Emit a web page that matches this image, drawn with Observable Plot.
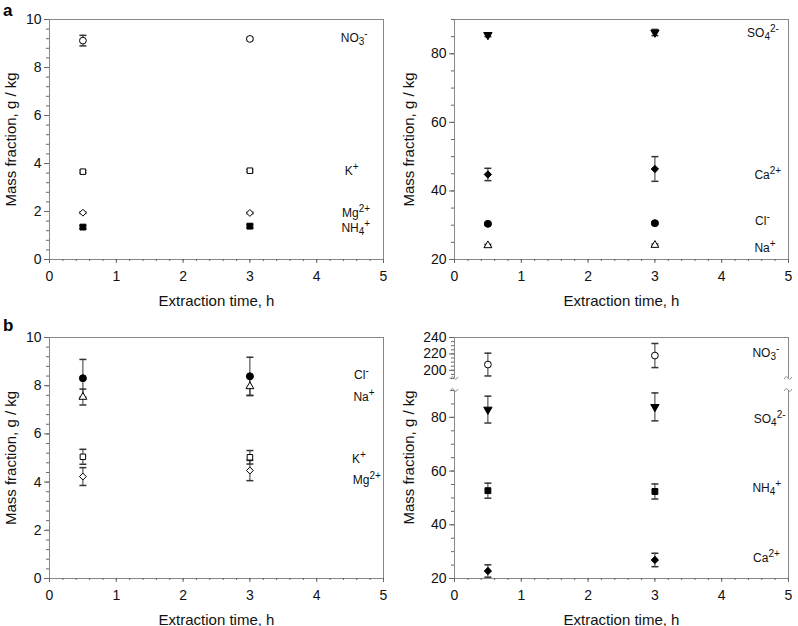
<!DOCTYPE html>
<html><head><meta charset="utf-8">
<script src="https://cdn.jsdelivr.net/npm/d3@7"></script>
<script src="https://cdn.jsdelivr.net/npm/@observablehq/plot@0.6"></script>
<style>
body{margin:0;background:#fff;}
#fig{position:relative;width:798px;height:626px;font-family:"Liberation Sans",Arial,sans-serif;overflow:hidden;}
#fig > svg{position:absolute;}
</style></head><body><div id="fig"></div>
<script>
// ---------- data ----------
const times = [0.5, 3];
const xDomain = [0, 5];
const xTicks = [0, 1, 2, 3, 4, 5];
const xMinor = d3.range(0, 5.001, 0.2);

// panel a, left
const aL_names = ["NO_{3}^{-}", "K^{+}", "Mg^{2+}", "NH_{4}^{+}"];
const aL_values = [[9.12, 9.19], [3.66, 3.70], [1.95, 1.94], [1.35, 1.39]];
const aL_errors = [[0.22, 0.06], [0.05, 0.05], [0.03, 0.03], [0.07, 0.07]];
const aL_markers = ["openCircle", "openSquare", "openDiamond", "filledSquare"];
const aL_labelX = [4.36, 4.42, 4.38, 4.37];
const aL_labelY = [9.22, 3.70, 1.95, 1.29];
const aL_yTicks = [0, 2, 4, 6, 8, 10];

// panel a, right
const aR_names = ["SO_{4}^{2-}", "Ca^{2+}", "Cl^{-}", "Na^{+}"];
const aR_values = [[85.5, 86.2], [44.8, 46.4], [30.4, 30.6], [24.1, 24.2]];
const aR_errors = [[0.5, 0.9], [1.8, 3.6], [0.4, 0.4], [0.3, 0.3]];
const aR_markers = ["filledDown", "filledDiamond", "filledCircle", "openTriangle"];
const aR_labelX = [4.38, 4.49, 4.50, 4.49];
const aR_labelY = [85.9, 44.6, 31.2, 23.4];
const aR_yTicks = [20, 40, 60, 80];

// panel b, left
const bL_names = ["Cl^{-}", "Na^{+}", "K^{+}", "Mg^{2+}"];
const bL_values = [[8.31, 8.39], [7.53, 7.97], [5.05, 5.03], [4.23, 4.48]];
const bL_errors = [[0.78, 0.79], [0.33, 0.38], [0.31, 0.28], [0.37, 0.42]];
const bL_markers = ["filledCircle", "openTriangle", "openSquare", "openDiamond"];
const bL_labelX = [4.56, 4.55, 4.53, 4.54];
const bL_labelY = [8.42, 7.52, 4.97, 4.07];
const bL_yTicks = [0, 2, 4, 6, 8, 10];

// panel b, right (broken axis)
const bRu_names = ["NO_{3}^{-}"];
const bRu_values = [[207, 218]];
const bRu_errors = [[13.9, 14.7]];
const bRu_markers = ["openCircle"];
const bRu_labelX = [4.46];
const bRu_labelY = [220.8];
const bRu_yTicks = [200, 220, 240];

const bRl_names = ["SO_{4}^{2-}", "NH_{4}^{+}", "Ca^{2+}"];
const bRl_values = [[82.9, 83.9], [52.7, 52.4], [22.8, 26.9]];
const bRl_errors = [[5.0, 5.2], [2.8, 2.8], [2.3, 2.5]];
const bRl_markers = ["filledDown", "filledSquare", "filledDiamond"];
const bRl_labelX = [4.48, 4.46, 4.47];
const bRl_labelY = [79.5, 53.8, 27.4];
const bRl_yTicks = [20, 40, 60, 80];

const xLabel = "Extraction time, h";
const yLabel = "Mass fraction, g / kg";
const panelLetters = ["a", "b"];

// ---------- styles ----------
const triDown = {draw(ctx, size) {
  const y = -Math.sqrt(size / (Math.sqrt(3) * 3));
  ctx.moveTo(0, -y * 2); ctx.lineTo(-Math.sqrt(3) * y, y); ctx.lineTo(Math.sqrt(3) * y, y); ctx.closePath();
}};
const capSym = {draw(ctx, size) { ctx.moveTo(-3.5, 0); ctx.lineTo(3.5, 0); }};
const markerStyles = {
  openCircle: {symbol: "circle", fill: "white", r: 3.4},
  openSquare: {symbol: "square", fill: "white", r: 3.1},
  openDiamond: {symbol: "diamond2", fill: "white", r: 3.1},
  openTriangle: {symbol: "triangle", fill: "white", r: 2.9},
  filledCircle: {symbol: "circle", fill: "black", r: 3.5},
  filledSquare: {symbol: "square", fill: "black", r: 3.3},
  filledDiamond: {symbol: "diamond2", fill: "black", r: 3.3},
  filledDown: {symbol: triDown, fill: "black", r: 3.1}
};
const frameColor = "#888";
const tickColor = "#666";
const errColor = "#333";

function makePanel(c) {
  const rows = [];
  c.values.forEach((vals, i) => vals.forEach((v, j) =>
    rows.push({t: times[j], v, e: c.errors[i][j], m: c.markers[i]})));
  const labels = c.names.map((n, i) => ({n, x: c.labelX[i], y: c.labelY[i]}));
  const marks = [];
  if (c.frame === "full") marks.push(Plot.frame({stroke: frameColor}));
  else {
    marks.push(Plot.ruleX(xDomain, {stroke: frameColor}));
    marks.push(Plot.ruleY([c.frame === "upper" ? c.yDomain[1] : c.yDomain[0]], {stroke: frameColor}));
  }
  if (c.xAxis) {
    marks.push(Plot.axisX(xMinor, {tickSize: 2, tickFormat: () => "", stroke: tickColor, label: null}));
    marks.push(Plot.axisX(xTicks, {tickSize: 4, tickPadding: 8, stroke: tickColor, fill: "#111", fontSize: 14, label: null}));
    marks.push(Plot.text([xLabel], {text: d => d, frameAnchor: "bottom", textAnchor: "middle", lineAnchor: "bottom", dy: 46, fontSize: 15, fill: "#111"}));
  }
  marks.push(Plot.axisY(c.yMinor, {tickSize: 3, tickFormat: () => "", stroke: tickColor, label: null}));
  marks.push(Plot.axisY(c.yTicks, {tickSize: 5, tickPadding: 3, stroke: tickColor, fill: "#111", fontSize: 14, label: null}));
  if (c.ylabel) {
    marks.push(Plot.text([yLabel], {text: d => d, frameAnchor: "left", rotate: -90, textAnchor: "middle", lineAnchor: "bottom",
      dx: c.ylabelX - c.ml, dy: c.ylabelDy || 0, fontSize: 15, fill: "#111"}));
  }
  // error bars
  marks.push(Plot.ruleX(rows, {x: "t", y1: d => d.v - d.e, y2: d => d.v + d.e, stroke: errColor}));
  marks.push(Plot.dot(rows, {x: "t", y: d => d.v + d.e, symbol: capSym, r: 3, fill: "none", stroke: errColor}));
  marks.push(Plot.dot(rows, {x: "t", y: d => d.v - d.e, symbol: capSym, r: 3, fill: "none", stroke: errColor}));
  for (const [k, s] of Object.entries(markerStyles)) {
    const sub = rows.filter(d => d.m === k);
    if (sub.length) marks.push(Plot.dot(sub, {x: "t", y: "v", symbol: s.symbol, r: s.r, fill: s.fill, stroke: "black", strokeWidth: 1}));
  }
  marks.push(Plot.text(labels, {x: "x", y: "y", text: "n", textAnchor: "start", lineAnchor: "middle", fontSize: 12, fill: "#111"}));

  const p = Plot.plot({
    width: 398, height: c.height,
    marginLeft: c.ml, marginRight: c.mr, marginTop: c.mt, marginBottom: c.mb,
    x: {domain: xDomain, label: null, axis: c.xAxis ? undefined : null},
    y: {domain: c.yDomain, label: null},
    style: {fontFamily: '"Liberation Sans", Arial, sans-serif', fontSize: "14px", background: "transparent", overflow: "visible", color: "#111"},
    marks
  });
  // sub/superscripts
  p.querySelectorAll("text").forEach(t => {
    const s = t.textContent;
    if (!/[_^]\{/.test(s)) return;
    const parts = [];
    const re = /([_^])\{([^}]*)\}/g;
    let last = 0, m, prev = "base";
    while ((m = re.exec(s))) {
      if (m.index > last) parts.push({k: "base", s: s.slice(last, m.index)});
      parts.push({k: m[1] === "_" ? "sub" : "sup", s: m[2]});
      last = re.lastIndex;
    }
    if (last < s.length) parts.push({k: "base", s: s.slice(last)});
    t.textContent = "";
    const ns = "http://www.w3.org/2000/svg";
    for (const part of parts) {
      const ts = document.createElementNS(ns, "tspan");
      ts.textContent = part.s;
      if (part.k === "sub") { ts.setAttribute("dy", "3"); ts.setAttribute("font-size", "10"); }
      if (part.k === "sup") { ts.setAttribute("dy", prev === "sub" ? "-8" : "-5"); ts.setAttribute("font-size", "10"); }
      prev = part.k;
      t.appendChild(ts);
    }
  });
  p.style.left = c.left + "px";
  p.style.top = c.top + "px";
  return p;
}

const fig = document.getElementById("fig");
fig.appendChild(makePanel({names: aL_names, values: aL_values, errors: aL_errors, markers: aL_markers,
  labelX: aL_labelX, labelY: aL_labelY, yDomain: [0, 10], yTicks: aL_yTicks, yMinor: d3.range(0, 10.001, 0.4),
  ml: 49, mr: 15, mt: 19, mb: 51, height: 310, left: 0, top: 0, xAxis: true, frame: "full", ylabel: true, ylabelX: 15}));
fig.appendChild(makePanel({names: aR_names, values: aR_values, errors: aR_errors, markers: aR_markers,
  labelX: aR_labelX, labelY: aR_labelY, yDomain: [20, 90], yTicks: aR_yTicks, yMinor: d3.range(20, 90.001, 5),
  ml: 54, mr: 10, mt: 19, mb: 51, height: 310, left: 400, top: 0, xAxis: true, frame: "full", ylabel: true, ylabelX: 13.5}));
fig.appendChild(makePanel({names: bL_names, values: bL_values, errors: bL_errors, markers: bL_markers,
  labelX: bL_labelX, labelY: bL_labelY, yDomain: [0, 10], yTicks: bL_yTicks, yMinor: d3.range(0, 10.001, 0.4),
  ml: 49, mr: 15, mt: 27, mb: 48, height: 316, left: 0, top: 310, xAxis: true, frame: "full", ylabel: true, ylabelX: 15}));
const up = makePanel({names: bRu_names, values: bRu_values, errors: bRu_errors, markers: bRu_markers,
  labelX: bRu_labelX, labelY: bRu_labelY, yDomain: [190, 240], yTicks: bRu_yTicks, yMinor: d3.range(190, 240.001, 5),
  ml: 54, mr: 10, mt: 27, mb: 1, height: 69, left: 400, top: 310, xAxis: false, frame: "upper", ylabel: false});
const lo = makePanel({names: bRl_names, values: bRl_values, errors: bRl_errors, markers: bRl_markers,
  labelX: bRl_labelX, labelY: bRl_labelY, yDomain: [20, 90], yTicks: bRl_yTicks, yMinor: d3.range(20, 90.001, 5),
  ml: 54, mr: 10, mt: 10, mb: 48, height: 246, left: 400, top: 380, xAxis: true, frame: "lower", ylabel: true, ylabelX: 13.5, ylabelDy: -27});
fig.appendChild(up);
fig.appendChild(lo);
// axis-break curls
function curls(p, yv, dir) {
  const sx = p.scale("x"), sy = p.scale("y");
  const y = sy.apply(yv);
  for (const xv of xDomain) {
    const x = sx.apply(xv);
    d3.select(p).append("path")
      .attr("d", `M${x - 4},${y + dir} C${x - 2},${y - 2 * dir} ${x - 1},${y - 2 * dir} ${x},${y} C${x + 1},${y + 2 * dir} ${x + 2},${y + 2 * dir} ${x + 4},${y - dir}`)
      .attr("fill", "none").attr("stroke", frameColor);
  }
}
curls(up, 190, 1);
curls(lo, 90, 1);

// panel letters
const ov = d3.select(fig).append("svg").attr("width", 798).attr("height", 626).style("left", "0px").style("top", "0px").style("pointer-events", "none");
[[panelLetters[0], 15.5], [panelLetters[1], 331]].forEach(([t, y]) =>
  ov.append("text").attr("x", 3).attr("y", y).attr("font-weight", "bold").attr("font-size", 17)
    .attr("font-family", '"Liberation Sans", Arial, sans-serif').text(t));
</script></body></html>
